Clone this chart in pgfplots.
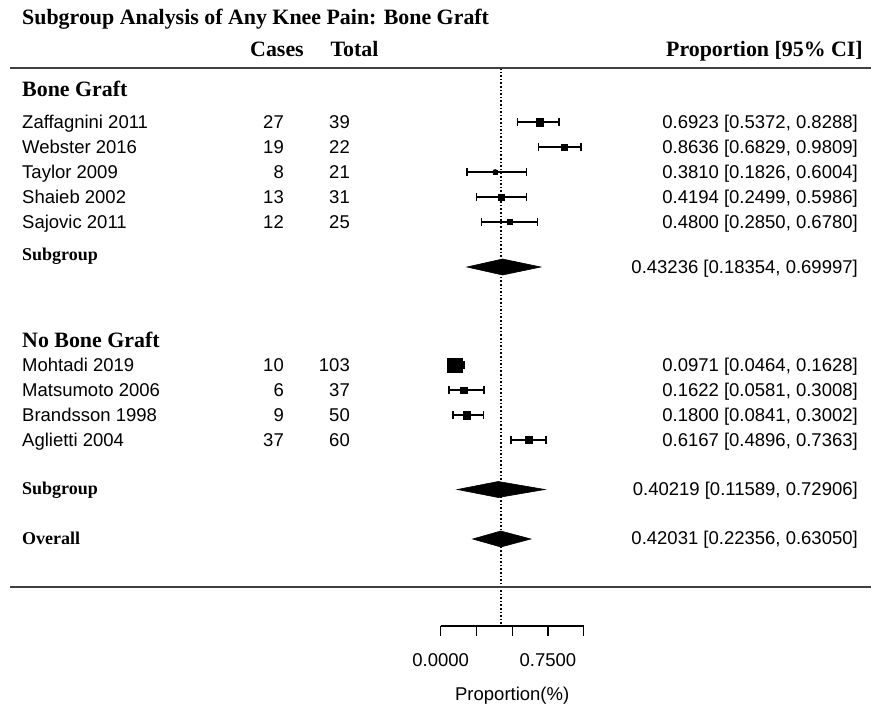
\documentclass[border=0pt]{standalone}
\usepackage{fontspec}
\setmainfont{Liberation Sans}
\newfontfamily\tnr{Liberation Serif}
\usepackage{pgfplots}
\pgfplotsset{compat=1.18}
\usepackage{pgfplotstable}

\newcommand\bodyf{\fontsize{18.5}{22}\selectfont}
\newcommand\hdr{\tnr\bfseries\fontsize{21.9}{26}\selectfont}
\newcommand\subf{\tnr\bfseries\fontsize{18}{22}\selectfont}

% row (pixel row), estimate, lower, upper, square half-size
\pgfplotstableread{
row est lo hi sz
122 0.6923 0.5372 0.8288 3.6
147 0.8636 0.6829 0.9809 3.1
172 0.3810 0.1826 0.6004 2.4
197 0.4194 0.2499 0.5986 3.0
222 0.4800 0.2850 0.6780 2.5
365 0.0971 0.0464 0.1628 7.4
390 0.1622 0.0581 0.3008 3.4
415 0.1800 0.0841 0.3002 3.6
440 0.6167 0.4896 0.7363 3.5
}\studies

\begin{document}
\begin{tikzpicture}
\begin{axis}[scale only axis, width=878pt, height=707pt,
  xmin=-3.08182, xmax=3.05804, ymin=0, ymax=707, y dir=reverse,
  hide axis, clip=false]
% confidence intervals
\addplot[black, line width=1.6pt, only marks, mark=none,
  error bars/.cd, x dir=both, x explicit,
  error bar style={line width=1.6pt, black},
  error mark options={rotate=90, mark size=4.2pt, line width=1.6pt, black}]
  table[x=est, y=row,
        x error plus expr=\thisrow{hi}-\thisrow{est},
        x error minus expr=\thisrow{est}-\thisrow{lo}] {\studies};
% weighted squares
\addplot[only marks, mark=square*, scatter,
  scatter/use mapped color={draw=black, fill=black},
  mark options={line width=0.2pt},
  visualization depends on={\thisrow{sz} \as \msz},
  scatter/@pre marker code/.append style={/tikz/mark size=\msz}]
  table[x=est, y=row] {\studies};
% pooled diamonds
\addplot[fill=black, draw=black, line width=0.6pt] coordinates
  {(0.18354,267) (0.43236,259) (0.69997,267) (0.43236,275)} -- cycle;
\addplot[fill=black, draw=black, line width=0.6pt] coordinates
  {(0.11589,489.5) (0.40219,481.5) (0.72906,489.5) (0.40219,497.5)} -- cycle;
\addplot[fill=black, draw=black, line width=0.6pt] coordinates
  {(0.22356,539) (0.42031,531) (0.63050,539) (0.42031,547)} -- cycle;
% reference line at overall estimate
\addplot[black, line width=1.6pt, dash pattern=on 1.6pt off 2pt] coordinates
  {(0.42031,68) (0.42031,626)};
\end{axis}

\begin{axis}[at={(440.7pt,81pt)}, anchor=south west, scale only axis,
  width=143pt, height=20pt, xmin=0, xmax=1, ymin=0, ymax=1,
  axis x line*=bottom, axis y line=none,
  xtick={0,0.25,0.5,0.75,1}, xticklabels={0.0000,,,0.7500,},
  tick align=outside, major tick length=10pt,
  x axis line style={line width=1.4pt, black},
  every tick/.style={black, line width=1.4pt},
  xticklabel style={font=\bodyf, anchor=base, inner sep=0pt, yshift=-30.6pt},
  xlabel={Proportion(\%)},
  xlabel style={font=\bodyf, at={(axis description cs:0.5,0)}, anchor=base, inner sep=0pt, yshift=-74pt}]
\addplot[draw=none, mark=none] coordinates {(0,0) (1,1)};
\end{axis}

\begin{scope}[x=1pt, y=-1pt, yshift=707pt]
\draw[line width=1.6pt, black!75] (10,68) -- (871,68);
\draw[line width=1.6pt, black!75] (10,587) -- (871,587);
\tikzset{every node/.style={inner sep=0pt}}
% headers
\node[anchor=base west] at (22,25) {\hdr Subgroup Analysis of Any Knee Pain: Bone Graft};
\node[anchor=base] at (277,56.5) {\hdr Cases};
\node[anchor=base] at (354.5,56.5) {\hdr Total};
\node[anchor=base east] at (863,56.5) {\hdr Proportion [95\% CI]};
\node[anchor=base west] at (22,96.5) {\hdr Bone Graft};
\node[anchor=base west] at (22,348) {\hdr No Bone Graft};
% study rows
\foreach \y/\n/\c/\t/\v in {
  122/Zaffagnini 2011/27/39/{0.6923 [0.5372, 0.8288]},
  147/Webster 2016/19/22/{0.8636 [0.6829, 0.9809]},
  172/Taylor 2009/8/21/{0.3810 [0.1826, 0.6004]},
  197/Shaieb 2002/13/31/{0.4194 [0.2499, 0.5986]},
  222/Sajovic 2011/12/25/{0.4800 [0.2850, 0.6780]},
  365/Mohtadi 2019/10/103/{0.0971 [0.0464, 0.1628]},
  390/Matsumoto 2006/6/37/{0.1622 [0.0581, 0.3008]},
  415/Brandsson 1998/9/50/{0.1800 [0.0841, 0.3002]},
  440/Aglietti 2004/37/60/{0.6167 [0.4896, 0.7363]}}{
  \node[anchor=base west] at (22,\y+6.6) {\bodyf \n};
  \node[anchor=base east] at (284,\y+6.6) {\bodyf \c};
  \node[anchor=base east] at (350,\y+6.6) {\bodyf \t};
  \node[anchor=base east] at (858,\y+6.6) {\bodyf \v};
}
% summaries
\node[anchor=base west] at (22,261) {\subf Subgroup};
\node[anchor=base east] at (858,274) {\bodyf 0.43236 [0.18354, 0.69997]};
\node[anchor=base west] at (22,495) {\subf Subgroup};
\node[anchor=base east] at (858,496) {\bodyf 0.40219 [0.11589, 0.72906]};
\node[anchor=base west] at (22,545) {\subf Overall};
\node[anchor=base east] at (858,545) {\bodyf 0.42031 [0.22356, 0.63050]};
\end{scope}
\pgfresetboundingbox
\path[use as bounding box] (0,0) rectangle (878pt,707pt);
\end{tikzpicture}
\end{document}
